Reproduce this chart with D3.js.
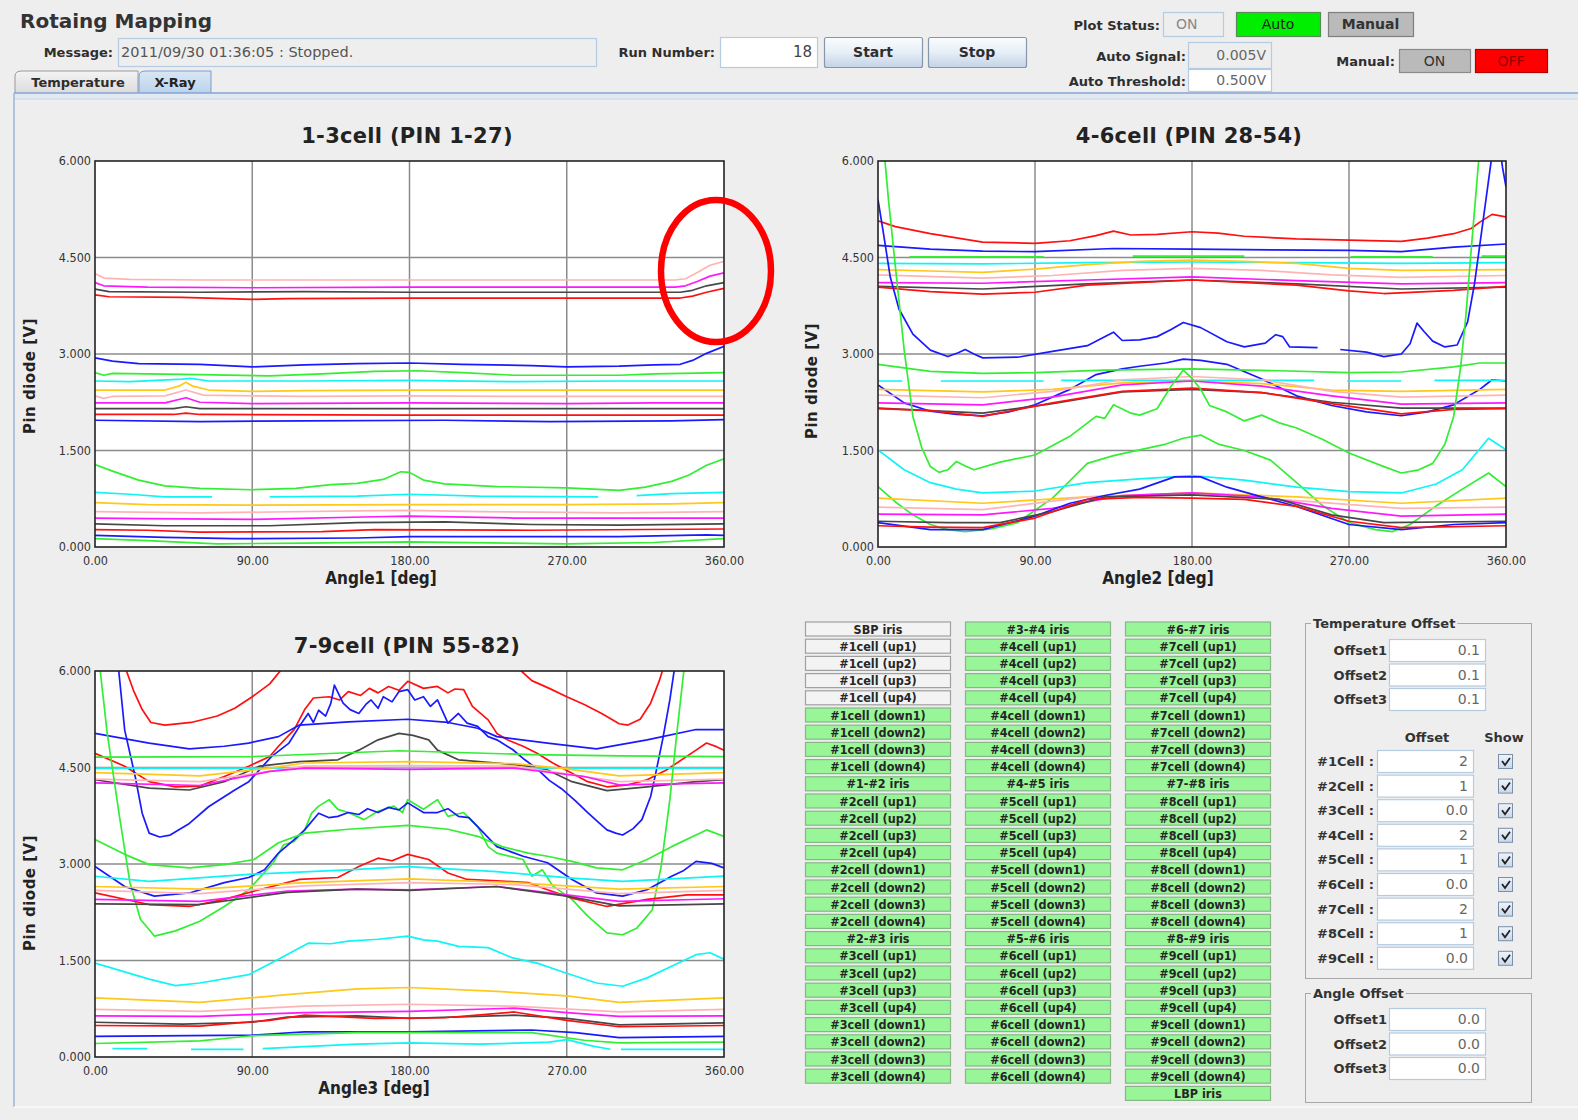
<!DOCTYPE html>
<html>
<head>
<meta charset="utf-8">
<title>Rotaing Mapping</title>
<script src="https://cdn.jsdelivr.net/npm/d3@7/dist/d3.min.js"></script>
<style>
  html, body { margin: 0; padding: 0; background: #eeeeee; }
  svg { display: block; }
</style>
</head>
<body>
<svg id="app" width="1578" height="1120"></svg>
<script>
// ---------------------------------------------------------------------------
// Axis ticks and chart labels
// ---------------------------------------------------------------------------
const angleTicks = [0, 90, 180, 270, 360];
const voltTicks = [0, 1.5, 3, 4.5, 6];
const chartTitles = ["1-3cell (PIN 1-27)", "4-6cell (PIN 28-54)", "7-9cell (PIN 55-82)"];
const angleLabels = ["Angle1 [deg]", "Angle2 [deg]", "Angle3 [deg]"];
const voltLabel = "Pin diode [V]";

// ---------------------------------------------------------------------------
// PIN diode traces: [angle (deg), voltage (V)]; null marks a dropout
// ---------------------------------------------------------------------------
const angle1Colors = ["pink","magenta","gray","red","blue","green","cyan","orange","pink","magenta","gray",
  "red","blue","green","cyan","orange","pink","magenta","gray","red","blue","green"];
const angle1Traces = [
  [[0,4.25],[5,4.18],[20,4.16],[60,4.15],[120,4.15],[180,4.15],[240,4.15],[300,4.15],[332,4.15],[338,4.17],[345,4.27],[352,4.38],[360,4.44]],
  [[0,4.11],[5,4.06],[30,4.04],[90,4.03],[180,4.04],[270,4.04],[332,4.04],[338,4.06],[345,4.13],[352,4.21],[360,4.26]],
  [[0,4.01],[8,3.97],[60,3.96],[120,3.97],[180,3.96],[240,3.96],[300,3.96],[335,3.96],[342,3.99],[350,4.06],[360,4.11]],
  [[0,3.92],[8,3.89],[50,3.88],[90,3.85],[110,3.86],[180,3.87],[270,3.87],[335,3.87],[342,3.9],[350,3.96],[360,4.02]],
  [[0,2.94],[10,2.89],[25,2.85],[60,2.84],[90,2.8],[120,2.83],[150,2.85],[180,2.86],[210,2.84],[250,2.82],[270,2.8],[300,2.81],[320,2.83],[335,2.84],[342,2.9],[350,3.01],[360,3.12]],
  [[0,2.71],[5,2.67],[10,2.7],[60,2.68],[100,2.66],[130,2.69],[160,2.73],[185,2.74],[210,2.71],[240,2.67],[300,2.67],[320,2.69],[360,2.71]],
  [[0,2.58],[20,2.57],[50,2.61],[55,2.62],[65,2.58],[120,2.58],[180,2.59],[240,2.57],[300,2.58],[360,2.58]],
  [[0,2.44],[40,2.44],[48,2.5],[52,2.56],[56,2.5],[65,2.44],[90,2.42],[120,2.43],[180,2.44],[240,2.44],[300,2.44],[360,2.44]],
  [[0,2.35],[5,2.31],[10,2.34],[40,2.35],[52,2.44],[62,2.36],[120,2.34],[180,2.35],[240,2.34],[360,2.34]],
  [[0,2.24],[40,2.24],[52,2.32],[60,2.25],[90,2.23],[180,2.24],[270,2.23],[320,2.24],[360,2.24]],
  [[0,2.15],[45,2.15],[52,2.18],[60,2.15],[180,2.15],[300,2.15],[360,2.15]],
  [[0,2.06],[45,2.06],[52,2.08],[60,2.06],[180,2.05],[300,2.05],[360,2.05]],
  [[0,1.97],[60,1.95],[120,1.96],[200,1.97],[260,1.95],[330,1.96],[360,1.98]],
  [[0,1.28],[10,1.18],[25,1.04],[40,0.95],[60,0.91],[90,0.89],[115,0.91],[135,0.97],[150,0.99],[165,1.05],[175,1.17],[180,1.16],[188,1.04],[200,0.98],[230,0.94],[270,0.92],[300,0.88],[315,0.93],[330,1.02],[340,1.12],[350,1.27],[360,1.37]],
  [[0,0.85],[20,0.82],[40,0.78],[67,0.78],[68,null],[98,null],[100,0.78],[150,0.79],[180,0.82],[220,0.79],[288,0.78],[290,null],[307,null],[310,0.8],[330,0.83],[360,0.85]],
  [[0,0.69],[30,0.66],[90,0.65],[180,0.66],[270,0.66],[330,0.67],[360,0.69]],
  [[0,0.55],[60,0.53],[150,0.56],[180,0.57],[220,0.55],[300,0.53],[360,0.55]],
  [[0,0.45],[30,0.44],[90,0.43],[160,0.47],[180,0.48],[240,0.45],[300,0.45],[360,0.45]],
  [[0,0.36],[40,0.33],[100,0.33],[150,0.38],[200,0.39],[250,0.35],[300,0.34],[360,0.36]],
  [[0,0.27],[30,0.26],[60,0.23],[130,0.24],[160,0.27],[250,0.26],[360,0.28]],
  [[0,0.18],[40,0.15],[80,0.13],[150,0.14],[180,0.16],[300,0.16],[350,0.19],[360,0.18]],
  [[0,0.13],[30,0.1],[70,0.05],[120,0.06],[180,0.08],[270,0.05],[320,0.07],[360,0.13]]
];

const angle2Colors = ["red","blue","green","cyan","orange","pink","magenta","gray","red","blue","blue","green",
  "cyan","orange","pink","magenta","gray","red","green","green","cyan","orange","pink","magenta","blue","gray","red"];
const angle2Traces = [
  [[0,5.07],[10,4.98],[30,4.87],[60,4.74],[90,4.72],[110,4.76],[125,4.84],[135,4.91],[145,4.85],[160,4.86],[180,4.9],[195,4.88],[210,4.83],[240,4.79],[270,4.77],[300,4.75],[315,4.8],[330,4.87],[340,4.95],[345,5.05],[352,5.17],[360,5.13]],
  [[0,4.69],[30,4.63],[60,4.6],[90,4.59],[135,4.64],[180,4.63],[225,4.62],[270,4.61],[300,4.59],[330,4.66],[360,4.71]],
  [[18,4.51],[95,4.51],[96,null],[145,null],[146,4.52],[210,4.52],[211,null],[270,null],[271,4.51],[318,4.51],[319,null],[345,null],[346,4.52],[360,4.52]],
  [[0,4.41],[60,4.4],[120,4.42],[180,4.43],[240,4.42],[300,4.41],[360,4.42]],
  [[0,4.31],[30,4.29],[60,4.27],[90,4.32],[120,4.39],[150,4.44],[180,4.46],[210,4.44],[240,4.41],[270,4.33],[300,4.3],[360,4.31]],
  [[0,4.23],[60,4.18],[100,4.22],[140,4.3],[180,4.33],[220,4.3],[260,4.23],[300,4.19],[360,4.22]],
  [[0,4.11],[60,4.1],[120,4.15],[180,4.2],[240,4.14],[300,4.09],[360,4.11]],
  [[0,4.05],[60,4.01],[120,4.09],[180,4.15],[240,4.09],[300,4.01],[360,4.04]],
  [[0,4.04],[30,3.97],[60,3.93],[90,3.96],[120,4.07],[180,4.15],[240,4.07],[270,3.98],[290,3.94],[330,3.99],[360,4.05]],
  [[0,5.4],[3,4.9],[7,4.2],[12,3.7],[20,3.31],[30,3.06],[40,2.96],[46,3.02],[50,3.07],[55,3.0],[60,2.94],[80,2.95],[100,3.04],[120,3.13],[128,3.24],[135,3.34],[140,3.21],[150,3.22],[160,3.27],[168,3.38],[175,3.49],[185,3.41],[200,3.19],[210,3.11],[222,3.17],[228,3.3],[232,3.27],[236,3.11],[252,3.1],[253,null],[263,null],[265,3.07],[280,3.03],[290,2.96],[300,3.0],[305,3.16],[309,3.48],[313,3.35],[318,3.2],[325,3.11],[332,3.14],[338,3.5],[342,4.1],[346,4.9],[350,5.7],[353,6.3],[356,6.3],[358,5.9],[360,5.6]],
  [[0,2.52],[15,2.24],[30,2.11],[45,2.06],[60,2.04],[75,2.1],[90,2.21],[110,2.45],[125,2.68],[140,2.77],[150,2.81],[165,2.86],[175,2.92],[185,2.9],[200,2.84],[220,2.61],[240,2.35],[260,2.2],[280,2.1],[300,2.04],[315,2.1],[330,2.21],[345,2.45],[352,2.6],[360,2.58]],
  [[0,2.84],[30,2.73],[60,2.7],[90,2.71],[130,2.75],[180,2.77],[230,2.74],[270,2.71],[300,2.72],[330,2.8],[345,2.86],[360,2.86]],
  [[0,2.58],[14,2.58],[15,null],[35,null],[36,2.58],[95,2.58],[96,null],[104,null],[105,2.59],[250,2.59],[251,null],[268,null],[269,2.58],[300,2.58],[301,null],[318,null],[319,2.59],[360,2.59]],
  [[0,2.45],[60,2.41],[100,2.45],[140,2.55],[180,2.58],[220,2.54],[260,2.44],[300,2.42],[360,2.45]],
  [[0,2.36],[60,2.32],[100,2.42],[140,2.6],[180,2.65],[220,2.6],[260,2.42],[300,2.33],[360,2.36]],
  [[0,2.24],[60,2.21],[100,2.33],[140,2.52],[180,2.58],[220,2.5],[260,2.35],[300,2.22],[360,2.24]],
  [[0,2.16],[60,2.08],[100,2.23],[140,2.41],[180,2.45],[220,2.4],[260,2.25],[300,2.16],[360,2.16]],
  [[0,2.15],[30,2.12],[60,2.03],[100,2.24],[140,2.42],[180,2.47],[220,2.4],[260,2.23],[300,2.07],[330,2.14],[360,2.15]],
  [[0,7.5],[3,6.3],[6,5.4],[10,4.35],[15,3.06],[20,2.03],[25,1.55],[30,1.25],[35,1.16],[40,1.2],[45,1.33],[50,1.26],[55,1.2],[70,1.32],[90,1.43],[110,1.72],[125,2.03],[130,2.0],[135,2.21],[145,2.08],[150,2.05],[160,2.15],[168,2.5],[175,2.75],[180,2.62],[185,2.45],[190,2.2],[200,2.1],[210,1.96],[220,2.05],[230,1.93],[240,1.85],[255,1.67],[270,1.46],[290,1.25],[300,1.15],[310,1.2],[318,1.3],[325,1.6],[330,2.03],[334,2.8],[337,3.6],[340,4.6],[344,5.9],[348,7.0],[360,7.5]],
  [[0,0.94],[10,0.7],[20,0.5],[30,0.35],[40,0.27],[50,0.24],[65,0.28],[80,0.38],[100,0.76],[110,1.03],[120,1.3],[135,1.42],[150,1.51],[165,1.6],[175,1.69],[185,1.74],[195,1.6],[210,1.5],[225,1.35],[240,1.0],[255,0.64],[270,0.38],[285,0.27],[295,0.24],[305,0.35],[320,0.64],[335,0.9],[350,1.15],[360,0.94]],
  [[0,1.51],[15,1.2],[30,1.0],[45,0.9],[60,0.84],[90,0.87],[120,1.0],[150,1.06],[180,1.11],[210,1.04],[240,0.93],[270,0.86],[300,0.84],[320,0.98],[335,1.2],[350,1.69],[360,1.51]],
  [[0,0.76],[60,0.68],[120,0.78],[180,0.84],[240,0.78],[300,0.68],[360,0.76]],
  [[0,0.62],[60,0.58],[120,0.78],[180,0.82],[240,0.72],[300,0.6],[360,0.62]],
  [[0,0.51],[60,0.5],[100,0.6],[140,0.8],[180,0.84],[220,0.78],[260,0.6],[300,0.48],[360,0.51]],
  [[0,0.38],[30,0.27],[60,0.27],[90,0.48],[110,0.68],[130,0.8],[150,0.9],[170,1.09],[185,1.09],[200,0.93],[220,0.78],[240,0.63],[270,0.35],[300,0.27],[330,0.35],[360,0.38]],
  [[0,0.4],[40,0.38],[70,0.38],[100,0.55],[130,0.78],[180,0.81],[230,0.74],[260,0.5],[290,0.38],[360,0.4]],
  [[0,0.33],[30,0.31],[60,0.3],[90,0.45],[120,0.74],[150,0.77],[180,0.76],[210,0.74],[240,0.63],[270,0.4],[300,0.3],[360,0.33]]
];

const angle3Colors = ["red","red","blue","blue","gray","green","cyan","orange","pink","magenta","green","blue",
  "green","red","cyan","orange","pink","magenta","gray","cyan","orange","pink","magenta","gray","red","blue","green","cyan"];
const angle3Traces = [
  [[0,9],[12,7],[18,6.0],[22,5.7],[27,5.4],[32,5.2],[40,5.16],[55,5.2],[70,5.3],[80,5.42],[90,5.6],[100,5.8],[106,6.0],[112,6.5],[120,7.5],[240,7.5],[244,6.0],[250,5.85],[260,5.73],[270,5.6],[280,5.48],[290,5.34],[300,5.18],[305,5.16],[312,5.25],[318,5.5],[323,5.85],[327,6.2],[335,7.5],[360,9]],
  [[0,4.72],[17,4.52],[31,4.28],[46,4.2],[60,4.21],[74,4.36],[88,4.52],[100,4.67],[105,4.83],[114,5.09],[120,5.4],[125,5.58],[134,5.6],[140,5.55],[145,5.68],[152,5.62],[157,5.73],[162,5.66],[168,5.76],[174,5.7],[179,5.84],[188,5.73],[196,5.76],[202,5.66],[206,5.72],[211,5.71],[216,5.45],[225,5.24],[230,5.03],[236,4.93],[245,4.83],[253,4.72],[262,4.57],[273,4.41],[282,4.28],[293,4.2],[305,4.23],[316,4.31],[327,4.46],[344,4.77],[350,4.88],[356,4.82],[360,4.77]],
  [[0,9],[10,7.5],[13.6,6.0],[17,5.08],[23,4.36],[27,3.79],[31,3.48],[37,3.42],[43,3.45],[54,3.63],[65,3.89],[80,4.15],[88,4.28],[94,4.46],[101,4.67],[111,4.88],[117,5.14],[122,5.34],[125,5.2],[128,5.39],[132,5.3],[135,5.5],[137,5.78],[142,5.5],[146,5.4],[151,5.34],[155,5.48],[158,5.55],[162,5.42],[165,5.6],[170,5.52],[174,5.68],[179,5.71],[183,5.55],[188,5.6],[192,5.45],[196,5.55],[202,5.19],[208,5.34],[213,5.19],[219,5.14],[225,4.98],[230,4.93],[239,4.78],[246,4.62],[253,4.48],[260,4.3],[267,4.17],[275,3.98],[282,3.8],[288,3.65],[293,3.53],[298,3.48],[302,3.45],[308,3.55],[313,3.69],[318,4.05],[321,4.42],[325,4.95],[329,5.55],[332,6.1],[340,8],[360,9]],
  [[0,5.03],[31,4.88],[54,4.79],[74,4.83],[88,4.88],[105,4.98],[117,5.16],[145,5.21],[179,5.25],[202,5.2],[219,5.11],[230,4.98],[259,4.88],[287,4.79],[316,4.93],[344,5.09],[360,5.09]],
  [[0,4.31],[31,4.18],[54,4.15],[74,4.28],[94,4.52],[117,4.59],[139,4.62],[151,4.77],[162,4.93],[174,5.03],[182,5.0],[191,4.93],[196,4.77],[208,4.62],[230,4.57],[248,4.52],[259,4.46],[273,4.28],[293,4.14],[316,4.2],[344,4.28],[360,4.31]],
  [[0,4.66],[90,4.67],[174,4.76],[250,4.7],[300,4.68],[360,4.67]],
  [[0,4.49],[90,4.49],[180,4.5],[270,4.49],[360,4.49]],
  [[0,4.42],[60,4.37],[100,4.49],[120,4.57],[180,4.59],[240,4.56],[270,4.48],[300,4.37],[360,4.42]],
  [[0,4.32],[60,4.28],[100,4.44],[120,4.52],[180,4.53],[240,4.52],[280,4.36],[300,4.28],[360,4.32]],
  [[0,4.26],[60,4.22],[100,4.44],[120,4.49],[180,4.47],[240,4.49],[280,4.36],[300,4.23],[360,4.26]],
  [[0,9],[3,6.0],[7,5.03],[14,3.74],[20,2.71],[26,2.14],[34,1.88],[46,1.96],[60,2.11],[74,2.34],[88,2.6],[94,2.78],[102,3.02],[108,3.3],[114,3.35],[120,3.53],[124,3.79],[128,3.9],[134,4.0],[139,3.85],[145,3.8],[154,3.69],[162,3.82],[171,3.9],[176,3.8],[179,4.0],[188,3.85],[196,4.0],[202,3.74],[211,3.8],[219,3.58],[225,3.27],[230,3.17],[245,3.07],[250,2.81],[256,2.91],[262,2.66],[273,2.45],[282,2.19],[293,1.93],[302,1.9],[310,2.0],[319,2.29],[324,2.96],[329,4.0],[333,5.03],[337,6.0],[345,9],[360,9]],
  [[0,2.96],[17,2.65],[34,2.5],[54,2.55],[74,2.71],[88,2.79],[97,2.91],[105,3.17],[114,3.38],[120,3.53],[128,3.79],[134,3.72],[139,3.74],[145,3.8],[151,3.77],[156,3.86],[162,3.8],[168,3.88],[174,3.84],[179,3.95],[188,3.8],[196,3.8],[202,3.86],[208,3.74],[214,3.72],[219,3.58],[230,3.27],[245,3.12],[259,3.02],[273,2.76],[287,2.55],[302,2.5],[316,2.6],[330,2.81],[337,2.9],[344,3.04],[353,3.01],[360,2.94]],
  [[0,3.38],[17,3.15],[31,2.99],[54,2.94],[74,2.99],[91,3.07],[105,3.33],[120,3.48],[145,3.54],[179,3.6],[202,3.54],[219,3.43],[233,3.27],[248,3.17],[259,3.12],[273,3.04],[287,2.94],[302,2.91],[316,3.07],[330,3.27],[350,3.53],[360,3.43]],
  [[0,2.55],[31,2.37],[54,2.34],[74,2.45],[94,2.6],[117,2.76],[139,2.79],[151,2.96],[162,3.09],[170,3.05],[179,3.15],[191,3.07],[202,2.86],[213,2.76],[230,2.74],[248,2.71],[259,2.6],[273,2.47],[293,2.34],[316,2.45],[339,2.52],[360,2.52]],
  [[0,2.81],[31,2.73],[88,2.84],[145,2.91],[179,2.96],[230,2.88],[273,2.78],[302,2.73],[360,2.81]],
  [[0,2.65],[60,2.61],[120,2.71],[180,2.77],[240,2.71],[300,2.61],[360,2.65]],
  [[0,2.59],[60,2.54],[120,2.66],[180,2.71],[240,2.68],[300,2.54],[360,2.59]],
  [[0,2.45],[60,2.42],[110,2.58],[150,2.61],[180,2.6],[230,2.65],[270,2.52],[300,2.42],[360,2.46]],
  [[0,2.38],[60,2.37],[110,2.56],[150,2.61],[180,2.59],[230,2.65],[270,2.5],[300,2.35],[360,2.38]],
  [[0,1.46],[31,1.21],[46,1.11],[60,1.15],[88,1.28],[105,1.52],[122,1.77],[135,1.76],[145,1.8],[162,1.83],[179,1.88],[188,1.82],[196,1.8],[208,1.72],[225,1.7],[239,1.54],[253,1.46],[267,1.33],[287,1.15],[302,1.1],[316,1.23],[330,1.41],[344,1.59],[352,1.62],[360,1.52]],
  [[0,0.92],[60,0.85],[110,0.97],[150,1.06],[180,1.08],[230,1.02],[270,0.95],[300,0.85],[360,0.92]],
  [[0,0.74],[60,0.71],[120,0.79],[180,0.82],[240,0.79],[300,0.7],[360,0.74]],
  [[0,0.64],[60,0.63],[120,0.69],[180,0.71],[240,0.76],[270,0.69],[300,0.63],[360,0.64]],
  [[0,0.54],[50,0.51],[90,0.54],[110,0.62],[150,0.64],[180,0.6],[240,0.65],[270,0.6],[300,0.5],[360,0.53]],
  [[0,0.49],[60,0.48],[100,0.57],[120,0.65],[160,0.6],[200,0.61],[240,0.7],[270,0.57],[300,0.47],[360,0.49]],
  [[0,0.32],[90,0.34],[120,0.39],[180,0.39],[250,0.42],[275,0.38],[300,0.3],[360,0.32]],
  [[0,0.21],[60,0.25],[90,0.33],[150,0.38],[180,0.38],[250,0.38],[280,0.26],[300,0.22],[360,0.23]],
  [[10,0.13],[30,0.13],[31,null],[54,null],[55,0.12],[85,0.12],[86,null],[95,null],[96,0.13],[120,0.16],[150,0.2],[180,0.22],[220,0.2],[260,0.23],[270,0.27],[285,0.17],[295,0.12],[296,null],[300,null],[301,0.12],[340,0.12],[360,0.12]]
];

// ---------------------------------------------------------------------------
// Control panel contents
// ---------------------------------------------------------------------------
const tempOffsets = ["0.1", "0.1", "0.1"];
const cellOffsets = ["2", "1", "0.0", "2", "1", "0.0", "2", "1", "0.0"];
const angleOffsets = ["0.0", "0.0", "0.0"];
const readoutTexts = { message: "2011/09/30 01:36:05 : Stopped.", run: "18", status: "ON", signal: "0.005V", threshold: "0.500V" };

// ---------------------------------------------------------------------------
// Styling
// ---------------------------------------------------------------------------
const palette = {
  red: "#ff1010", blue: "#1a1aff", green: "#33ee33", cyan: "#10f4f4",
  orange: "#ffc81a", pink: "#ffb4b4", magenta: "#ff18ff", gray: "#474747"
};
const SANS = "'DejaVu Sans', 'Noto Sans', sans-serif";
const COND = "'DejaVu Sans Condensed', 'DejaVu Sans', sans-serif";
const TEXT = "#2e2e2e";

const svg = d3.select("#app");
const defs = svg.append("defs");

function vGrad(id, stops) {
  const g = defs.append("linearGradient").attr("id", id).attr("x1", 0).attr("y1", 0).attr("x2", 0).attr("y2", 1);
  stops.forEach(([o, c]) => g.append("stop").attr("offset", o).attr("stop-color", c));
}
vGrad("btnBlue", [[0, "#fbfdff"], [0.5, "#e6eef7"], [1, "#c3d3e6"]]);
vGrad("tabGray", [[0, "#f4f4f4"], [1, "#dcdcdc"]]);
vGrad("tabBlue", [[0, "#d9e7f6"], [1, "#bcd3ec"]]);
vGrad("chk", [[0, "#eef4fb"], [1, "#c8d8ea"]]);

// background
svg.append("rect").attr("width", 1578).attr("height", 1120).attr("fill", "#eeeeee");

// ---------------------------------------------------------------------------
// Helpers for widgets
// ---------------------------------------------------------------------------
function label(x, y, text, opts = {}) {
  return svg.append("text")
    .attr("x", x).attr("y", y)
    .attr("text-anchor", opts.anchor || "start")
    .attr("font-family", opts.family || SANS)
    .attr("font-size", opts.size || 13)
    .attr("font-weight", opts.weight || "bold")
    .attr("fill", opts.fill || TEXT)
    .text(text);
}
function field(x, y, w, h, text, opts = {}) {
  svg.append("rect").attr("x", x + 0.5).attr("y", y + 0.5).attr("width", w).attr("height", h)
    .attr("fill", opts.bg || "#ffffff").attr("stroke", "#b5cbe2").attr("stroke-width", 1.2);
  if (text !== undefined) {
    const t = svg.append("text")
      .attr("y", y + h / 2 + 5)
      .attr("font-family", SANS).attr("font-size", opts.size || 14)
      .attr("fill", opts.fill || "#666").text(text);
    if (opts.left) t.attr("x", x + opts.left).attr("text-anchor", "start");
    else t.attr("x", x + w - 5).attr("text-anchor", "end");
  }
}
function button(x, y, w, h, text, opts = {}) {
  svg.append("rect").attr("x", x + 0.5).attr("y", y + 0.5).attr("width", w).attr("height", h)
    .attr("rx", opts.rx || 0)
    .attr("fill", opts.fill || "url(#btnBlue)").attr("stroke", opts.stroke || "#8797ab").attr("stroke-width", 1.2);
  svg.append("text").attr("x", x + w / 2).attr("y", y + h / 2 + 5)
    .attr("text-anchor", "middle").attr("font-family", SANS)
    .attr("font-size", opts.size || 14).attr("font-weight", opts.weight || "bold")
    .attr("fill", opts.color || TEXT).text(text);
}

// ---------------------------------------------------------------------------
// Header
// ---------------------------------------------------------------------------
label(20, 28, "Rotaing Mapping", { size: 20, fill: "#333" });
label(113, 57, "Message:", { anchor: "end" });
field(118, 38, 478, 28, readoutTexts.message, { bg: "#eeeeee", left: 3, size: 14.5, fill: "#555" });
label(715, 57, "Run Number:", { anchor: "end" });
field(720, 37, 97, 30, readoutTexts.run, { size: 15, fill: "#444" });
button(824, 37, 98, 30, "Start", { rx: 2 });
button(928, 37, 98, 30, "Stop", { rx: 2 });

label(1160, 30, "Plot Status:", { anchor: "end" });
field(1163, 12, 60, 24, readoutTexts.status, { bg: "#eeeeee", left: 13, fill: "#888" });
button(1236, 12, 84, 24, "Auto", { fill: "#00ee00", stroke: "#5a8a5a", weight: "normal", color: "#222" });
button(1328, 12, 85, 24, "Manual", { fill: "#bababa", stroke: "#7f7f7f", color: "#333" });
label(1186, 61, "Auto Signal:", { anchor: "end" });
field(1188, 42, 83, 26, readoutTexts.signal, { bg: "#eeeeee" });
label(1186, 86, "Auto Threshold:", { anchor: "end" });
field(1188, 69, 83, 22, readoutTexts.threshold);
label(1395, 66, "Manual:", { anchor: "end" });
button(1399, 49, 71, 23, "ON", { fill: "#bababa", stroke: "#8a8a8a", weight: "normal", color: "#333" });
button(1475, 49, 72, 23, "OFF", { fill: "#ff0000", stroke: "#b00000", weight: "normal", color: "#9a0000" });

// Tabs and content panel
svg.append("path").attr("d", "M15,93 L15,76 Q15,71 22,71 L138,71 L138,93").attr("fill", "url(#tabGray)").attr("stroke", "#9a9a9a");
svg.append("path").attr("d", "M139,93 L139,76 Q139,71 146,71 L211,71 L211,93").attr("fill", "url(#tabBlue)").attr("stroke", "#7e9dc9");
label(78, 87, "Temperature", { anchor: "middle", size: 13 });
label(175, 87, "X-Ray", { anchor: "middle", size: 13, fill: "#222" });
svg.append("rect").attr("x", 14).attr("y", 93).attr("width", 1564).attr("height", 6).attr("fill", "#e3e9f1");
svg.append("line").attr("x1", 14).attr("x2", 1578).attr("y1", 93).attr("y2", 93).attr("stroke", "#84a5d4").attr("stroke-width", 1.5);
svg.append("line").attr("x1", 14).attr("x2", 1578).attr("y1", 99).attr("y2", 99).attr("stroke", "#c9d6e6").attr("stroke-width", 1);
svg.append("line").attr("x1", 14).attr("x2", 14).attr("y1", 93).attr("y2", 1107).attr("stroke", "#9db5d8").attr("stroke-width", 1.5);
svg.append("line").attr("x1", 14).attr("x2", 1578).attr("y1", 1107).attr("y2", 1107).attr("stroke", "#fafafa").attr("stroke-width", 1.5);

// ---------------------------------------------------------------------------
// Charts
// ---------------------------------------------------------------------------
const chartBoxes = [
  { left: 95, top: 161, width: 629, height: 386, titleX: 407, titleY: 143, xlabX: 381, xlabY: 584, ylabX: 35, ylabY: 376 },
  { left: 878, top: 161, width: 628, height: 386, titleX: 1189, titleY: 143, xlabX: 1158, xlabY: 584, ylabX: 817, ylabY: 381 },
  { left: 95, top: 671, width: 629, height: 386, titleX: 407, titleY: 653, xlabX: 374, xlabY: 1094, ylabX: 35, ylabY: 893 }
];
const chartTraces = [angle1Traces, angle2Traces, angle3Traces];
const chartColors = [angle1Colors, angle2Colors, angle3Colors];

chartBoxes.forEach((box, i) => {
  const g = svg.append("g");
  const x = d3.scaleLinear().domain([0, 360]).range([box.left, box.left + box.width]);
  const y = d3.scaleLinear().domain([0, 6]).range([box.top + box.height, box.top]);

  g.append("rect").attr("x", box.left).attr("y", box.top).attr("width", box.width).attr("height", box.height).attr("fill", "#ffffff");

  // grid
  g.append("g").selectAll("line").data(voltTicks.slice(1, -1)).join("line")
    .attr("x1", box.left).attr("x2", box.left + box.width)
    .attr("y1", d => y(d)).attr("y2", d => y(d))
    .attr("stroke", "#8c8c8c").attr("stroke-width", 1.5);
  g.append("g").selectAll("line").data(angleTicks.slice(1, -1)).join("line")
    .attr("y1", box.top).attr("y2", box.top + box.height)
    .attr("x1", d => x(d)).attr("x2", d => x(d))
    .attr("stroke", "#8c8c8c").attr("stroke-width", 1.5);

  // traces
  const clipId = "plotClip" + i;
  defs.append("clipPath").attr("id", clipId).append("rect")
    .attr("x", box.left).attr("y", box.top).attr("width", box.width).attr("height", box.height);
  const line = d3.line().defined(d => d[1] !== null).x(d => x(d[0])).y(d => y(d[1]));
  g.append("g").attr("clip-path", `url(#${clipId})`)
    .selectAll("path").data(chartTraces[i]).join("path")
    .attr("d", line)
    .attr("fill", "none")
    .attr("stroke", (d, k) => palette[chartColors[i][k]])
    .attr("stroke-width", 1.7)
    .attr("stroke-linejoin", "round");

  // frame
  g.append("rect").attr("x", box.left).attr("y", box.top).attr("width", box.width).attr("height", box.height)
    .attr("fill", "none").attr("stroke", "#222").attr("stroke-width", 1.6);

  // axes
  const yAxis = g.append("g").attr("transform", `translate(${box.left},0)`)
    .call(d3.axisLeft(y).tickValues(voltTicks).tickFormat(d3.format(".3f")).tickSize(0).tickPadding(4));
  const xAxis = g.append("g").attr("transform", `translate(0,${box.top + box.height})`)
    .call(d3.axisBottom(x).tickValues(angleTicks).tickFormat(d3.format(".2f")).tickSize(0).tickPadding(9));
  [yAxis, xAxis].forEach(ax => {
    ax.select(".domain").remove();
    ax.selectAll("text").attr("font-family", COND).attr("font-size", 12.5).attr("fill", "#333");
  });
  yAxis.selectAll("text").attr("dy", "0.3em");

  // titles
  g.append("text").attr("x", box.titleX).attr("y", box.titleY).attr("text-anchor", "middle")
    .attr("font-family", SANS).attr("font-weight", "bold").attr("font-size", 21).attr("letter-spacing", 0.3).attr("fill", "#222")
    .text(chartTitles[i]);
  g.append("text").attr("x", box.xlabX).attr("y", box.xlabY).attr("text-anchor", "middle")
    .attr("font-family", COND).attr("font-weight", "bold").attr("font-size", 17).attr("fill", "#222")
    .text(angleLabels[i]);
  g.append("text").attr("transform", `translate(${box.ylabX},${box.ylabY}) rotate(-90)`)
    .attr("text-anchor", "middle").attr("font-family", SANS).attr("font-weight", "bold")
    .attr("font-size", 15).attr("letter-spacing", 0.5).attr("fill", "#222")
    .text(voltLabel);
});

// highlight ring on the first chart
svg.append("ellipse").attr("cx", 716).attr("cy", 271).attr("rx", 55).attr("ry", 71)
  .attr("fill", "none").attr("stroke", "#ff0000").attr("stroke-width", 6.5);

// ---------------------------------------------------------------------------
// PIN selector buttons
// ---------------------------------------------------------------------------
function cellRows(cell) {
  return ["up1", "up2", "up3", "up4", "down1", "down2", "down3", "down4"].map(s => `#${cell}cell (${s})`);
}
const pinColumns = [
  ["SBP iris", ...cellRows(1), "#1-#2 iris", ...cellRows(2), "#2-#3 iris", ...cellRows(3)],
  ["#3-#4 iris", ...cellRows(4), "#4-#5 iris", ...cellRows(5), "#5-#6 iris", ...cellRows(6)],
  ["#6-#7 iris", ...cellRows(7), "#7-#8 iris", ...cellRows(8), "#8-#9 iris", ...cellRows(9), "LBP iris"]
];
const colX = [805, 965, 1125];
pinColumns.forEach((col, c) => {
  col.forEach((name, r) => {
    const off = c === 0 && r < 5;
    const top = 621.5 + r * 17.2;
    svg.append("rect").attr("x", colX[c] + 0.5).attr("y", top + 0.5).attr("width", 145).attr("height", 14)
      .attr("fill", off ? "#f3f3f3" : "#98f598").attr("stroke", off ? "#a0a0a0" : "#86b886").attr("stroke-width", 1.2);
    svg.append("text").attr("x", colX[c] + 73).attr("y", top + 12)
      .attr("text-anchor", "middle").attr("font-family", COND).attr("font-weight", "bold")
      .attr("font-size", 12.5).attr("fill", "#262626").text(name);
  });
});

// ---------------------------------------------------------------------------
// Offset panels
// ---------------------------------------------------------------------------
function groupBox(x, y, w, h, title) {
  svg.append("rect").attr("x", x + 0.5).attr("y", y + 0.5).attr("width", w).attr("height", h)
    .attr("fill", "none").attr("stroke", "#a8a8a8").attr("stroke-width", 1);
  const t = label(x + 8, y + 5, title, { size: 13, fill: "#333" });
  const bb = t.node().getBBox();
  svg.insert("rect", () => t.node()).attr("x", bb.x - 2).attr("y", y - 2).attr("width", bb.width + 4).attr("height", 5).attr("fill", "#eeeeee");
}
groupBox(1305, 623, 226, 355, "Temperature Offset");
tempOffsets.forEach((v, k) => {
  const top = 639 + k * 24.5;
  label(1387, top + 16, `Offset${k + 1}`, { anchor: "end", size: 13, fill: "#333" });
  field(1389, top, 96, 22, v, { size: 14 });
});
label(1427, 742, "Offset", { anchor: "middle", size: 13, fill: "#333" });
label(1504, 742, "Show", { anchor: "middle", size: 13, fill: "#333" });
cellOffsets.forEach((v, k) => {
  const top = 750 + k * 24.6;
  label(1317, top + 16, `#${k + 1}Cell :`, { size: 13, fill: "#333" });
  field(1377, top, 96, 22, v, { size: 14 });
  svg.append("rect").attr("x", 1498.5).attr("y", top + 4.5).attr("width", 14).attr("height", 14)
    .attr("fill", "url(#chk)").attr("stroke", "#7a8ea8");
  svg.append("path").attr("d", `M1502,${top + 11} L1505,${top + 15} L1510,${top + 8}`)
    .attr("fill", "none").attr("stroke", "#222").attr("stroke-width", 1.8);
});
groupBox(1305, 993, 226, 109, "Angle Offset");
angleOffsets.forEach((v, k) => {
  const top = 1008 + k * 24.5;
  label(1387, top + 16, `Offset${k + 1}`, { anchor: "end", size: 13, fill: "#333" });
  field(1389, top, 96, 22, v, { size: 14 });
});
</script>
</body>
</html>
